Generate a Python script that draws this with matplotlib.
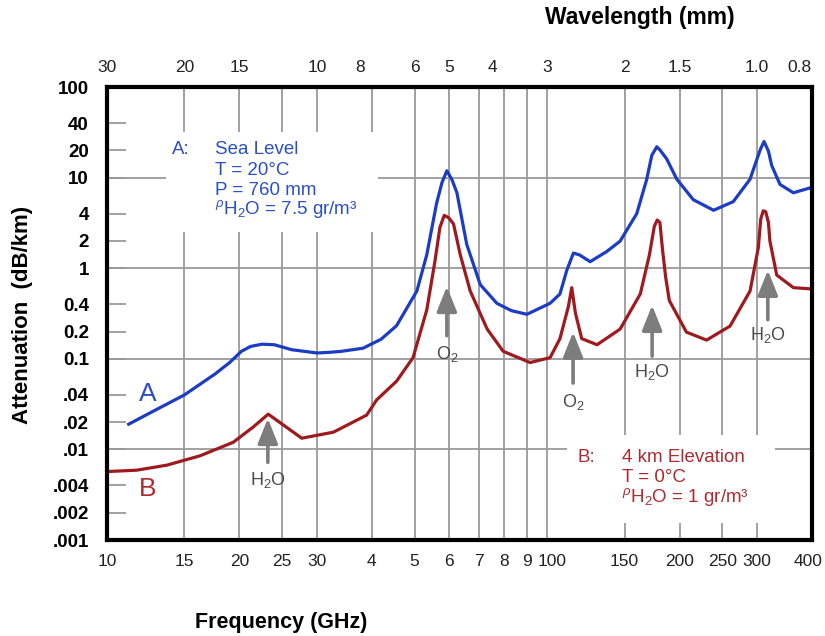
import numpy as np
import matplotlib
matplotlib.use('Agg')
import matplotlib.pyplot as plt
from matplotlib.patches import Rectangle
from matplotlib.ticker import NullLocator
from matplotlib.transforms import ScaledTranslation

plt.rcParams['font.family'] = ['Liberation Sans', 'DejaVu Sans']
plt.rcParams['mathtext.fontset'] = 'custom'
plt.rcParams['mathtext.rm'] = 'Liberation Sans'
plt.rcParams['mathtext.it'] = 'Liberation Sans:italic'
plt.rcParams['mathtext.bf'] = 'Liberation Sans:bold'

# Curve A: sea level (frequency GHz, attenuation dB/km)
freq_a = [11.2, 12.85, 15.0, 17.6, 19.0, 20.2, 21.2, 22.5, 24.0, 26.3, 30.0, 32.1, 34.1, 38.2,
          42.0, 45.5, 50.6, 53.3, 56.1, 57.7, 59.2, 60.8, 62.4, 65.7, 70.5, 76.9,
          83.0, 90.0, 101.6, 107.0, 110.9, 114.8, 118.6, 125.3, 136.7, 146.6, 159.9,
          168.5, 173.0, 177.6, 180.7, 187.0, 197.2, 215.0, 239.0, 265.0, 289.3, 302.0,
          306.0, 311.3, 318.5, 324.0, 338.4, 363.0, 396.0]
atten_a = [0.019, 0.027, 0.040, 0.068, 0.091, 0.121, 0.137, 0.145, 0.143, 0.126, 0.116, 0.118, 0.121, 0.131,
           0.165, 0.232, 0.56, 1.41, 5.2, 8.8, 11.9, 9.5, 6.8, 1.83, 0.66, 0.41,
           0.34, 0.31, 0.41, 0.52, 0.95, 1.47, 1.40, 1.18, 1.53, 1.99, 4.0,
           9.6, 17.6, 21.9, 20.1, 16.1, 9.6, 5.7, 4.36, 5.43, 9.6, 17.6,
           21.0, 25.0, 19.6, 13.6, 8.4, 6.8, 7.7]

# Curve B: 4 km elevation
freq_b = [10.0, 11.68, 13.67, 16.27, 19.36, 21.5, 23.25, 25.2, 27.7, 32.7, 38.9, 41.0,
          45.5, 49.6, 53.3, 55.6, 57.1, 58.4, 59.8, 61.3, 63.5, 66.9, 73.1, 79.5, 91.5,
          101.6, 107.0, 111.8, 113.8, 116.0, 119.9, 129.9, 146.6, 162.9, 170.9,
          175.3, 178.0, 180.5, 183.0, 186.0, 189.6, 207.4, 230.5, 260.6, 289.3, 302.0,
          306.0, 310.0, 314.0, 318.5, 321.0, 332.7, 363.0, 400.0]
atten_b = [0.0057, 0.0059, 0.0067, 0.0085, 0.0120, 0.0177, 0.0245, 0.0185, 0.0133, 0.0155, 0.0239, 0.0352,
           0.0566, 0.103, 0.347, 1.18, 2.83, 3.83, 3.6, 3.08, 1.41, 0.56, 0.213, 0.121, 0.091,
           0.103, 0.167, 0.377, 0.61, 0.32, 0.167, 0.143, 0.213, 0.52, 1.41,
           2.9, 3.4, 3.2, 1.6, 0.8, 0.44, 0.197, 0.161, 0.23, 0.56, 1.67,
           3.5, 4.3, 4.2, 3.2, 1.99, 0.84, 0.61, 0.59]

x_ticks = [10, 15, 20, 25, 30, 40, 50, 60, 70, 80, 90, 100, 150, 200, 250, 300, 400]
x_labels = ['10', '15', '20', '25', '30', '4', '5', '6', '7', '8', '9',
            '100', '150', '200', '250', '300', '400']
x_grid = [15, 20, 25, 30, 40, 50, 60, 70, 80, 90, 100, 150, 200, 250, 300]

y_ticks = [100, 40, 20, 10, 4, 2, 1, 0.4, 0.2, 0.1, 0.04, 0.02, 0.01, 0.004, 0.002, 0.001]
y_labels = ['100', '40', '20', '10', '4', '2', '1', '0.4', '0.2', '0.1',
            '.04', '.02', '.01', '.004', '.002', '.001']
y_grid = [10, 1, 0.1, 0.01]

wavelength = [30, 20, 15, 10, 8, 6, 5, 4, 3, 2, 1.5, 1.0, 0.8]
wl_labels = ['30', '20', '15', '10', '8', '6', '5', '4', '3', '2', '1.5', '1.0', '0.8']

# absorption lines: (label, frequency, arrow tip, arrow tail, text y)
lines = [
    ('H$_2$O', 23.2, 0.022, 0.0072, 0.0046),
    ('O$_2$', 59.2, 0.63, 0.18, 0.112),
    ('O$_2$', 114.6, 0.197, 0.054, 0.033),
    ('H$_2$O', 173.3, 0.39, 0.107, 0.072),
    ('H$_2$O', 317.5, 0.95, 0.27, 0.185),
]

BLUE = '#1c3cc4'
RED = '#9e1a1e'
BLUE_TXT = '#2b4fc4'
RED_TXT = '#ad2a2e'
GRID = '#9a9a9a'
ARROW = '#7d7d7d'

fig = plt.figure(figsize=(8.25, 6.36), dpi=100)
ax = fig.add_axes([0.1297, 0.1509, 0.8545, 0.7123])
ax.set_xscale('log')
ax.set_yscale('log')
ax.set_xlim(10, 400)
ax.set_ylim(0.001, 100)

for x in x_grid:
    ax.axvline(x, color=GRID, lw=1.3, zorder=1)
for y in y_grid:
    ax.axhline(y, color=GRID, lw=1.3, zorder=1)

# white boxes behind the legend texts
ax.add_patch(Rectangle((0.084, 0.680), 0.300, 0.221, transform=ax.transAxes,
                       facecolor='white', edgecolor='none', zorder=2))
ax.add_patch(Rectangle((0.652, 0.0375), 0.296, 0.195, transform=ax.transAxes,
                       facecolor='white', edgecolor='none', zorder=2))

ax.plot(freq_a, atten_a, color=BLUE, lw=2.3, zorder=3, solid_joinstyle='round')
ax.plot(freq_b, atten_b, color=RED, lw=2.3, zorder=3, solid_joinstyle='round')

for label, f, tip, tail, ty in lines:
    ax.annotate('', xy=(f, tip), xytext=(f, tail),
                arrowprops=dict(arrowstyle='-|>,head_length=0.95,head_width=0.38',
                                color=ARROW, lw=2.6, mutation_scale=16,
                                shrinkA=0, shrinkB=0), zorder=4)
    ax.text(f, ty, label, ha='center', va='center', fontsize=13, color='#4a4a4a', zorder=4)

# legend texts
ax.text(0.092, 0.861, 'A:', transform=ax.transAxes, color=BLUE_TXT, fontsize=13.5,
        va='center', zorder=5)
for yy, s in zip([0.861, 0.815, 0.772, 0.730],
                 ['Sea Level', 'T = 20°C', 'P = 760 mm', r'$^{\rho}$H$_2$O = 7.5 gr/m³']):
    ax.text(0.153, yy, s, transform=ax.transAxes, color=BLUE_TXT, fontsize=13.5,
            va='center', zorder=5)

ax.text(0.667, 0.183, 'B:', transform=ax.transAxes, color=RED_TXT, fontsize=13.5,
        va='center', zorder=5)
for yy, s in zip([0.183, 0.139, 0.095],
                 ['4 km Elevation', 'T = 0°C', r'$^{\rho}$H$_2$O = 1 gr/m³']):
    ax.text(0.730, yy, s, transform=ax.transAxes, color=RED_TXT, fontsize=13.5,
            va='center', zorder=5)

ax.text(0.058, 0.322, 'A', transform=ax.transAxes, color=BLUE_TXT, fontsize=19,
        ha='center', va='center', zorder=5)
ax.text(0.058, 0.113, 'B', transform=ax.transAxes, color=RED_TXT, fontsize=19,
        ha='center', va='center', zorder=5)

# axes styling
ax.xaxis.set_minor_locator(NullLocator())
ax.yaxis.set_minor_locator(NullLocator())
ax.set_xticks(x_ticks)
ax.set_xticklabels(x_labels)
ax.set_yticks(y_ticks)
ax.set_yticklabels(y_labels, fontweight='bold')
ax.tick_params(axis='x', length=0, pad=10, labelsize=12.5, labelcolor='#222222')
ax.tick_params(axis='y', direction='in', length=14, width=1.3, color=GRID,
               pad=13, labelsize=13.5, labelcolor='black')
for sp in ax.spines.values():
    sp.set_linewidth(3)
    sp.set_color('black')
    sp.set_zorder(6)

# nudge crowded bottom labels like the original
xt = ax.get_xticklabels()
xt[11].set_transform(xt[11].get_transform() + ScaledTranslation(5 / 100, 0, fig.dpi_scale_trans))
xt[-1].set_transform(xt[-1].get_transform() + ScaledTranslation(-4 / 100, 0, fig.dpi_scale_trans))

ax2 = ax.twiny()
ax2.set_xscale('log')
ax2.set_xlim(ax.get_xlim())
ax2.xaxis.set_minor_locator(NullLocator())
ax2.set_xticks([300.0 / w for w in wavelength])
ax2.set_xticklabels(wl_labels)
ax2.tick_params(axis='x', length=0, pad=9, labelsize=12.5, labelcolor='#222222')
for sp in ax2.spines.values():
    sp.set_visible(False)

fig.text(0.776, 0.972, 'Wavelength (mm)', ha='center', va='center',
         fontsize=16.5, fontweight='bold')
fig.text(0.341, 0.022, 'Frequency (GHz)', ha='center', va='center',
         fontsize=15.5, fontweight='bold')
fig.text(0.027, 0.505, 'Attenuation  (dB/km)', ha='center', va='center',
         rotation=90, fontsize=16, fontweight='bold')

plt.savefig('out.png', dpi=100)
plt.close()
